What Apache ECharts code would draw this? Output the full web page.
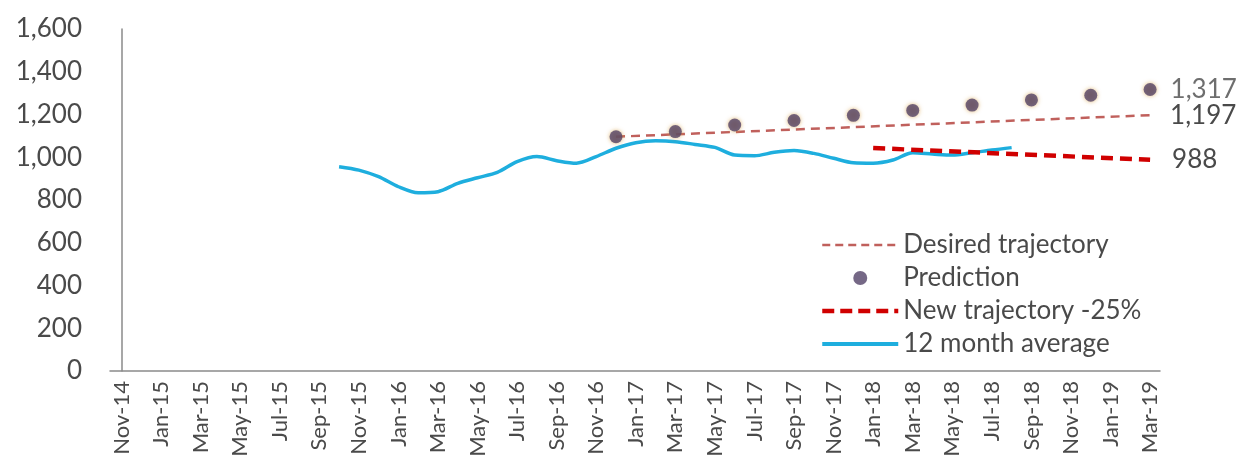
<!DOCTYPE html>
<html>
<head>
<meta charset="utf-8">
<script src="https://cdn.jsdelivr.net/npm/echarts@6/dist/echarts.min.js"></script>
<style>
  html, body { margin: 0; padding: 0; background: #fff; }
  #chart { width: 1238px; height: 470px; }
</style>
</head>
<body>
<div id="chart"></div>
<script>
// tick labels, one per month
var months = [
  'Nov-14','Dec-14','Jan-15','Feb-15','Mar-15','Apr-15','May-15','Jun-15','Jul-15','Aug-15','Sep-15','Oct-15',
  'Nov-15','Dec-15','Jan-16','Feb-16','Mar-16','Apr-16','May-16','Jun-16','Jul-16','Aug-16','Sep-16','Oct-16',
  'Nov-16','Dec-16','Jan-17','Feb-17','Mar-17','Apr-17','May-17','Jun-17','Jul-17','Aug-17','Sep-17','Oct-17',
  'Nov-17','Dec-17','Jan-18','Feb-18','Mar-18','Apr-18','May-18','Jun-18','Jul-18','Aug-18','Sep-18','Oct-18',
  'Nov-18','Dec-18','Jan-19','Feb-19','Mar-19'
];

// 12 month average, Oct-15 .. Aug-18
var avgStart = 'Oct-15';
var avg12 = [956, 940, 909, 862, 834, 839, 878, 904, 929, 979, 1003, 984, 972, 1003, 1042, 1068, 1077, 1073,
  1060, 1046, 1010, 1007, 1023, 1031, 1018, 995, 974, 972, 987, 1021, 1015, 1010, 1021, 1034, 1045];

var predMonths = ['Dec-16','Mar-17','Jun-17','Sep-17','Dec-17','Mar-18','Jun-18','Sep-18','Dec-18','Mar-19'];
var prediction = [1096, 1120, 1151, 1172, 1196, 1219, 1244, 1268, 1290, 1317];

var desiredMonths = ['Dec-16','Mar-19'];
var desired = [1096, 1197];

var newTrajMonths = ['Jan-18','Mar-19'];
var newTraj = [1043, 988];

function idx(m) { return months.indexOf(m); }
function fmt(v) { return Number(v).toLocaleString('en-US'); }

var avgData = [];
var s = idx(avgStart);
for (var i = 0; i < avg12.length; i++) {
  avgData.push([s + i, avg12[i]]);
}
var predData = [];
for (var i = 0; i < prediction.length; i++) {
  var item = { value: [idx(predMonths[i]), prediction[i]] };
  if (i == prediction.length - 1) {
    item.label = { show: true };
  }
  predData.push(item);
}
var desiredData = [];
for (var i = 0; i < desired.length; i++) desiredData.push([idx(desiredMonths[i]), desired[i]]);
var newData = [];
for (var i = 0; i < newTraj.length; i++) newData.push([idx(newTrajMonths[i]), newTraj[i]]);

var labelTicks = [];
for (var i = 0; i < months.length; i += 2) labelTicks.push(i);

var textColor = '#4a4a4a';
var fontFam = 'Lato, "Open Sans", sans-serif';

var myChart = echarts.init(document.getElementById('chart'));

var option = {
  animation: false,
  backgroundColor: '#fff',
  textStyle: { fontFamily: fontFam },
  grid: { left: 110, right: 78, top: 29, bottom: 99 },
  legend: {
    orient: 'vertical',
    left: 815,
    top: 227,
    itemWidth: 76,
    itemHeight: 14,
    itemGap: 7,
    textStyle: { fontSize: 26, color: textColor, fontFamily: fontFam },
    data: [
      { name: 'Desired trajectory', itemStyle: { opacity: 0 }, lineStyle: { width: 2.5, type: [8, 5] } },
      { name: 'Prediction' },
      { name: 'New trajectory -25%', itemStyle: { opacity: 0 }, lineStyle: { width: 4.5, type: [12, 6] } },
      { name: '12 month average', itemStyle: { opacity: 0 }, lineStyle: { width: 4 } }
    ]
  },
  xAxis: {
    type: 'value',
    min: -0.58,
    max: 52.5,
    splitLine: { show: false },
    axisTick: { show: false },
    axisLine: { show: true, lineStyle: { color: '#8a8a8a', width: 1.5 } },
    axisLabel: {
      customValues: labelTicks,
      rotate: 90,
      margin: 10,
      fontSize: 22,
      color: textColor,
      formatter: function (v) { return months[Math.round(v)]; }
    }
  },
  yAxis: {
    type: 'value',
    min: 0,
    max: 1600,
    interval: 200,
    splitLine: { show: false },
    axisTick: { show: false },
    axisLine: { show: true, lineStyle: { color: '#8a8a8a', width: 1.5 } },
    axisLabel: {
      margin: 28,
      fontSize: 26,
      color: textColor,
      formatter: function (v) { return fmt(v); }
    }
  },
  series: [
    {
      name: 'Desired trajectory',
      type: 'line',
      data: desiredData,
      symbol: 'none',
      z: 3,
      lineStyle: { color: '#c0605c', width: 2.5, type: [9, 6] },
      itemStyle: { color: '#c0605c' },
      endLabel: {
        show: true,
        distance: 20,
        fontSize: 26,
        color: textColor,
        formatter: function (p) { return fmt(p.value[1]); }
      }
    },
    {
      name: 'Prediction',
      type: 'scatter',
      data: predData,
      symbol: 'circle',
      symbolSize: 13,
      z: 5,
      itemStyle: {
        color: '#534268',
        shadowBlur: 4,
        shadowColor: 'rgba(215,160,70,0.9)'
      },
      label: {
        show: false,
        position: 'right',
        distance: 14,
        fontSize: 26,
        color: textColor,
        formatter: function (p) { return fmt(p.value[1]); }
      }
    },
    {
      name: 'New trajectory -25%',
      type: 'line',
      data: newData,
      symbol: 'none',
      z: 4,
      lineStyle: { color: '#d00000', width: 4.5, type: [12, 7] },
      itemStyle: { color: '#d00000' },
      endLabel: {
        show: true,
        distance: 22,
        fontSize: 26,
        color: textColor,
        formatter: function (p) { return fmt(p.value[1]); }
      }
    },
    {
      name: '12 month average',
      type: 'line',
      data: avgData,
      symbol: 'none',
      smooth: 0.3,
      z: 2,
      lineStyle: { color: '#1eaede', width: 3.5 },
      itemStyle: { color: '#1eaede' }
    }
  ]
};

myChart.setOption(option);
</script>
</body>
</html>
